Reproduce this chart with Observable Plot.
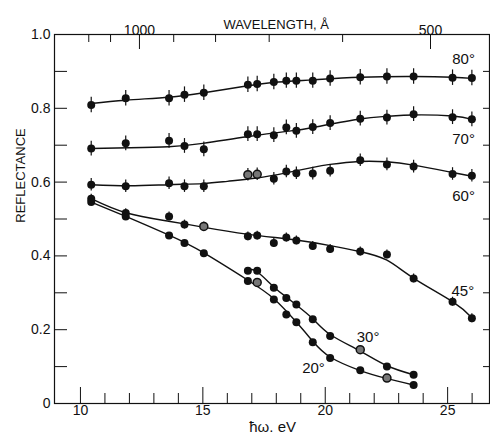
<!DOCTYPE html>
<html><head><meta charset="utf-8">
<script src="https://cdn.jsdelivr.net/npm/d3@7"></script>
<script src="https://cdn.jsdelivr.net/npm/@observablehq/plot@0.6"></script>
<style>body{margin:0;background:#fff}</style>
</head><body><div id="chart"></div>
<script>
// Photon energies (eV) of the measurements
const energy = [10.44, 11.85, 13.62, 14.25, 15.04, 16.84, 17.22, 17.90, 18.41, 18.82, 19.49, 20.20, 21.43, 22.52, 23.61, 25.20, 25.99];
const energy20 = [10.44, 11.85, 13.62, 14.25, 15.04, 16.84, 17.22, 17.90, 18.41, 18.82, 19.49, 20.20, 21.43, 22.52, 23.61];
const energy30 = [16.84, 17.22, 17.90, 18.41, 18.82, 19.49, 20.20, 21.43, 22.52, 23.61];

// Measured reflectance per angle of incidence
const r80 = [0.809, 0.827, 0.827, 0.837, 0.842, 0.864, 0.866, 0.871, 0.875, 0.875, 0.875, 0.881, 0.884, 0.886, 0.886, 0.883, 0.882];
const r70 = [0.691, 0.705, 0.712, 0.698, 0.689, 0.730, 0.730, 0.727, 0.748, 0.739, 0.749, 0.760, 0.772, 0.775, 0.784, 0.776, 0.770];
const r60 = [0.593, 0.589, 0.597, 0.589, 0.589, 0.620, 0.621, 0.609, 0.629, 0.624, 0.623, 0.631, 0.659, 0.648, 0.642, 0.622, 0.617];
const r45 = [0.555, 0.516, 0.507, 0.485, 0.480, 0.453, 0.455, 0.435, 0.450, 0.442, 0.427, 0.419, 0.412, 0.404, 0.339, 0.276, 0.231];
const r30 = [0.360, 0.360, 0.314, 0.286, 0.268, 0.228, 0.183, 0.146, 0.100, 0.078];
const r20 = [0.546, 0.507, 0.455, 0.435, 0.407, 0.332, 0.328, 0.282, 0.241, 0.220, 0.166, 0.123, 0.090, 0.069, 0.050];

// Half-length of the error bars per series
const seriesNames = ["80°", "70°", "60°", "45°", "30°", "20°"];
const errorBars = [0.021, 0.020, 0.017, 0.012, 0, 0];

// Smooth fitted curves (knots)
const fit80 = [[10.44,0.813],[11.85,0.822],[13.62,0.830],[15.04,0.842],[16.84,0.861],[17.9,0.870],[19.5,0.877],[21.43,0.884],[23.61,0.886],[25.2,0.884],[26,0.881]];
const fit70 = [[10.44,0.691],[12,0.693],[13.6,0.696],[15,0.705],[16.8,0.723],[18.5,0.738],[19.5,0.748],[21.4,0.771],[22.5,0.778],[23.6,0.782],[25.2,0.779],[26,0.770]];
const fit60 = [[10.44,0.593],[12,0.590],[13.6,0.593],[15,0.596],[16,0.602],[17.2,0.611],[18.4,0.625],[19.5,0.640],[20.2,0.648],[21.4,0.656],[22.5,0.655],[23.6,0.646],[25.2,0.626],[26,0.616]];
const fit45 = [[10.44,0.555],[11.85,0.517],[13.6,0.494],[15,0.478],[16.8,0.459],[18.8,0.443],[20.2,0.428],[21.4,0.412],[22.5,0.389],[23.6,0.340],[25.2,0.276],[26,0.232]];
const fit30 = [[16.9,0.362],[17.22,0.357],[17.9,0.316],[18.4,0.289],[18.8,0.268],[19.5,0.229],[20.2,0.187],[21.4,0.143],[22.5,0.103],[23.6,0.078]];
const fit20 = [[10.44,0.546],[11.85,0.507],[13.62,0.456],[15.04,0.408],[16.84,0.334],[17.9,0.284],[18.8,0.222],[19.5,0.168],[20.2,0.126],[21.4,0.090],[22.5,0.068],[23.6,0.050]];

// Points drawn as open (ringed) circles
const openPoints = [["60°",16.84],["60°",17.22],["45°",15.04],["30°",21.43],["20°",17.22],["20°",22.52]];

// Axis ticks
const xMajor = [10, 15, 20, 25];
const xMinor = [11, 12, 13, 14, 16, 17, 18, 19, 21, 22, 23, 24, 26];
const yTicks = [0.1, 0.2, 0.3, 0.4, 0.5, 0.6, 0.7, 0.8, 0.9];
const yLabels = [0, 0.2, 0.4, 0.6, 0.8, 1.0];
const wavelengthTicks = [1200, 1100, 1000, 900, 800, 700, 600, 500];
const wavelengthTickEV = [10.34, 11.23, 12.41, 13.81, 15.52, 17.71, 20.71, 24.30];
const wavelengthLabels = ["1000", "500"];

// Curve labels
const labelText = ["80°", "70°", "60°", "45°", "30°", "20°"];
const labelX = [25.65, 25.65, 25.65, 25.62, 21.75, 19.52];
const labelY = [0.933, 0.717, 0.563, 0.305, 0.180, 0.097];

// ---- build tables ----
const seriesData = [
  [energy, r80], [energy, r70], [energy, r60], [energy, r45], [energy30, r30], [energy20, r20]
];
const points = seriesData.flatMap(([E, R], k) => E.map((e, i) => ({
  series: seriesNames[k], e, r: R[i], err: errorBars[k],
  open: openPoints.some(([s, x]) => s === seriesNames[k] && x === e)
})));
const fits = [fit80, fit70, fit60, fit45, fit30, fit20].flatMap((f, k) => f.map(([e, r]) => ({series: seriesNames[k], e, r})));
const labels = labelText.map((t, i) => ({t, x: labelX[i], y: labelY[i]}));
const wlTicks = wavelengthTicks.map((w, i) => ({w, e: wavelengthTickEV[i]}));
const wlMajor = wlTicks.filter(d => wavelengthLabels.includes(String(d.w)));
const wlMinor = wlTicks.filter(d => !wavelengthLabels.includes(String(d.w)));

const ink = "#111";
const chart = Plot.plot({
  width: 490, height: 437,
  marginTop: 34, marginBottom: 34, marginLeft: 54, marginRight: 1,
  x: {domain: [8.94, 26.71], label: null},
  y: {domain: [0, 1], label: null},
  style: {fontFamily: "'Liberation Sans', Arial, sans-serif", fontSize: "14px", background: "#fff", color: ink},
  marks: [
    // axes ticks (inward)
    Plot.axisX(xMinor, {anchor: "bottom", tickSize: -10, tickFormat: () => "", stroke: ink}),
    Plot.axisX(xMajor, {anchor: "bottom", tickSize: -16, tickFormat: () => "", stroke: ink}),
    Plot.axisX(wlMinor.map(d => d.e), {anchor: "top", tickSize: -7, tickFormat: () => "", stroke: ink}),
    Plot.axisX(wlMajor.map(d => d.e), {anchor: "top", tickSize: -14, tickFormat: () => "", stroke: ink}),
    Plot.axisY(yTicks, {anchor: "left", tickSize: -13, tickFormat: () => "", stroke: ink}),
    Plot.axisY(yTicks, {anchor: "right", tickSize: -7, tickFormat: () => "", stroke: ink}),
    Plot.frame({stroke: ink, strokeWidth: 1.2}),
    // tick labels
    Plot.text(xMajor, {x: d => d, frameAnchor: "bottom", dy: 11, text: d => String(d), fill: ink, fontSize: 14}),
    Plot.text(yLabels, {y: d => d, frameAnchor: "left", textAnchor: "end", dx: -4, text: d => d === 0 ? "0" : d.toFixed(1), fill: ink, fontSize: 14}),
    Plot.text(wlMajor, {x: "e", frameAnchor: "top", dy: -9, text: d => String(d.w), fill: ink, fontSize: 14}),
    // axis titles
    Plot.text(["WAVELENGTH, Å"], {x: 18.0, frameAnchor: "top", dy: -15, text: d => d, fill: ink, fontSize: 13}),
    Plot.text(["ħω. eV"], {x: 17.85, frameAnchor: "bottom", dy: 28, text: d => d, fill: ink, fontSize: 15}),
    Plot.text(["REFLECTANCE"], {y: 0.49, frameAnchor: "left", dx: -34, rotate: -90, text: d => d, fill: ink, fontSize: 13}),
    // fitted curves
    Plot.line(fits, {x: "e", y: "r", z: "series", curve: "natural", stroke: ink, strokeWidth: 1.4}),
    // error bars
    Plot.ruleX(points.filter(d => d.err > 0), {x: "e", y1: d => d.r - d.err, y2: d => d.r + d.err, stroke: ink, strokeWidth: 1.2}),
    // data points
    Plot.dot(points, {x: "e", y: "r", r: 4, fill: d => d.open ? "#777" : ink, stroke: ink, strokeWidth: d => d.open ? 1.5 : 0}),
    // curve labels
    Plot.text(labels, {x: "x", y: "y", text: "t", fill: ink, fontSize: 15})
  ]
});
document.getElementById("chart").appendChild(chart);
</script>
</body></html>
